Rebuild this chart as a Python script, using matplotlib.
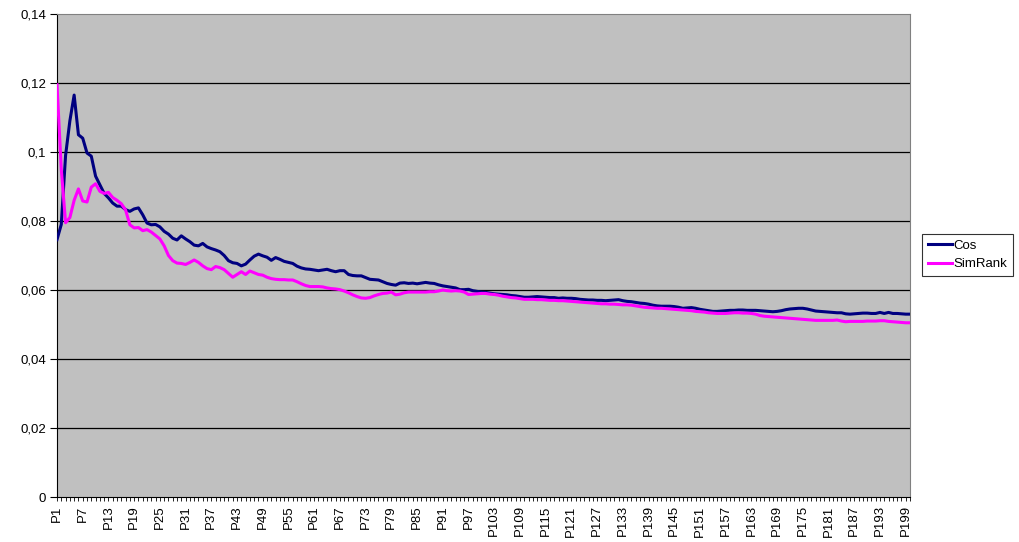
import matplotlib
matplotlib.use('Agg')
import matplotlib.pyplot as plt
import numpy as np

# ─── Data ───
cos = [
    0.0746, 0.0790, 0.0990, 0.1090, 0.1165, 0.1050, 0.1040, 0.0997, 0.0988, 0.0930,
    0.0905, 0.0880, 0.0867, 0.0852, 0.0843, 0.0843, 0.0833, 0.0828, 0.0835, 0.0838,
    0.0818, 0.0794, 0.0789, 0.0790, 0.0783, 0.0770, 0.0762, 0.0750, 0.0745, 0.0757,
    0.0748, 0.0740, 0.0730, 0.0728, 0.0735, 0.0725, 0.0720, 0.0716, 0.0711, 0.0700,
    0.0685, 0.0679, 0.0677, 0.0670, 0.0675, 0.0687, 0.0698, 0.0704, 0.0699, 0.0695,
    0.0686, 0.0694, 0.0689, 0.0683, 0.0680, 0.0677, 0.0669, 0.0664, 0.0661, 0.0660,
    0.0658, 0.0656, 0.0658, 0.0660, 0.0656, 0.0653, 0.0656, 0.0656, 0.0645, 0.0642,
    0.0641, 0.0641, 0.0636, 0.0631, 0.0630, 0.0629, 0.0624, 0.0619, 0.0616, 0.0614,
    0.0620, 0.0621, 0.0619, 0.0620, 0.0618, 0.0620, 0.0622, 0.0620, 0.0619, 0.0615,
    0.0612, 0.0610, 0.0608, 0.0606, 0.0601, 0.0601, 0.0602, 0.0598, 0.0596, 0.0594,
    0.0593, 0.0591, 0.0589, 0.0588, 0.0587, 0.0586, 0.0584, 0.0583, 0.0581, 0.0579,
    0.0579, 0.0580, 0.0581, 0.0580, 0.0579, 0.0578, 0.0578, 0.0576, 0.0577, 0.0576,
    0.0576, 0.0575, 0.0573, 0.0572, 0.0571, 0.0571, 0.0570, 0.0570, 0.0569, 0.0570,
    0.0571, 0.0572, 0.0569, 0.0567, 0.0566, 0.0564, 0.0562, 0.0561, 0.0559, 0.0556,
    0.0554, 0.0553, 0.0553, 0.0553, 0.0552, 0.0550, 0.0547, 0.0548, 0.0549, 0.0547,
    0.0544, 0.0542, 0.0540, 0.0538, 0.0538, 0.0539, 0.0540, 0.0541, 0.0541, 0.0542,
    0.0542, 0.0541, 0.0541, 0.0541, 0.0540, 0.0539, 0.0538, 0.0537, 0.0538, 0.0540,
    0.0543, 0.0545, 0.0546, 0.0547, 0.0547, 0.0545, 0.0542, 0.0539, 0.0538, 0.0537,
    0.0536, 0.0535, 0.0534, 0.0534, 0.0531, 0.0530, 0.0531, 0.0532, 0.0533, 0.0533,
    0.0532, 0.0532, 0.0535, 0.0532, 0.0535, 0.0532, 0.0532, 0.0531, 0.0530, 0.0530,
]
simrank = [
    0.1195, 0.0950, 0.0795, 0.0810, 0.0860, 0.0893, 0.0858, 0.0855, 0.0898, 0.0908,
    0.0886, 0.0880, 0.0883, 0.0868, 0.0860, 0.0850, 0.0832, 0.0789, 0.0780, 0.0781,
    0.0772, 0.0775, 0.0768, 0.0758, 0.0748, 0.0728, 0.0700, 0.0685, 0.0678, 0.0677,
    0.0674, 0.0680, 0.0687, 0.0680, 0.0670, 0.0662, 0.0659, 0.0668, 0.0665, 0.0659,
    0.0648, 0.0637, 0.0645, 0.0653, 0.0645, 0.0655, 0.0650, 0.0645, 0.0643, 0.0637,
    0.0633, 0.0631, 0.0630, 0.0630, 0.0629, 0.0629, 0.0624, 0.0618, 0.0613, 0.0610,
    0.0610, 0.0610, 0.0609, 0.0606, 0.0604, 0.0603, 0.0601, 0.0597, 0.0592, 0.0586,
    0.0581, 0.0577, 0.0576, 0.0578, 0.0583, 0.0587, 0.0590, 0.0591, 0.0594, 0.0586,
    0.0588, 0.0592, 0.0594, 0.0594, 0.0594, 0.0594, 0.0594, 0.0595, 0.0595, 0.0597,
    0.0600, 0.0598, 0.0597, 0.0598, 0.0597, 0.0594, 0.0587, 0.0588, 0.0589, 0.0590,
    0.0590, 0.0588, 0.0587, 0.0585, 0.0582, 0.0580, 0.0578, 0.0577, 0.0575, 0.0573,
    0.0573, 0.0573, 0.0572, 0.0572, 0.0571, 0.0570, 0.0570, 0.0569, 0.0569, 0.0568,
    0.0567, 0.0566, 0.0565, 0.0564, 0.0563, 0.0562, 0.0561, 0.0560, 0.0560, 0.0559,
    0.0559, 0.0558, 0.0557, 0.0557, 0.0556, 0.0554, 0.0552, 0.0550, 0.0549, 0.0548,
    0.0547, 0.0547, 0.0546, 0.0545, 0.0544, 0.0543, 0.0542, 0.0541, 0.0540, 0.0538,
    0.0537, 0.0536, 0.0534, 0.0533, 0.0532, 0.0532, 0.0532, 0.0533, 0.0534, 0.0534,
    0.0533, 0.0533, 0.0532, 0.0530, 0.0526, 0.0524, 0.0523, 0.0522, 0.0521, 0.0520,
    0.0519, 0.0518, 0.0517, 0.0516, 0.0515, 0.0514, 0.0513, 0.0512, 0.0512, 0.0512,
    0.0512, 0.0512, 0.0513, 0.0510, 0.0508, 0.0509, 0.0509, 0.0509, 0.0509, 0.0510,
    0.0510, 0.0510, 0.0511, 0.0511, 0.0509, 0.0508, 0.0507, 0.0506, 0.0505, 0.0505,
]
categories = [f'P{i + 1}' for i in range(len(cos))]
y_ticks = [0, 0.02, 0.04, 0.06, 0.08, 0.1, 0.12, 0.14]
y_labels = ['0', '0,02', '0,04', '0,06', '0,08', '0,1', '0,12', '0,14']

plt.rcParams['font.family'] = ['Liberation Sans', 'DejaVu Sans']

# ─── Figure ───
fig = plt.figure(figsize=(10.19, 5.42), dpi=100)
ax = fig.add_axes([57 / 1019, 45 / 542, 853 / 1019, 483 / 542])
ax.set_facecolor('#c0c0c0')

x = np.arange(len(cos))
ax.plot(x, cos, color='#000080', lw=2.2, label='Cos', zorder=3)
ax.plot(x, simrank, color='#ff00ff', lw=2.2, label='SimRank', zorder=4)

ax.set_xlim(0, len(cos) - 1)
ax.set_ylim(0, 0.14)
ax.set_yticks(y_ticks)
ax.set_yticklabels(y_labels, fontsize=9.5)
for yv in y_ticks[1:-1]:
    ax.axhline(yv, color='black', lw=0.9, zorder=1)

ax.set_xticks(x[::6])
ax.set_xticklabels(categories[::6], rotation=90, fontsize=9.5)
ax.set_xticks(x, minor=True)
ax.tick_params(axis='x', which='both', direction='out', length=3, width=0.6, pad=3)
ax.tick_params(axis='y', direction='out', length=5, width=0.8, pad=3)

ax.spines['left'].set_color('black')
ax.spines['bottom'].set_color('black')
ax.spines['top'].set_color('#808080')
ax.spines['right'].set_color('#808080')

leg = fig.legend(loc='center left', bbox_to_anchor=(922 / 1019, 1 - 255 / 542),
                 fontsize=9.5, frameon=True, fancybox=False, edgecolor='black',
                 handlelength=1.8, handletextpad=0.1, borderpad=0.45,
                 borderaxespad=0, labelspacing=0.45)
leg.get_frame().set_linewidth(0.8)

plt.savefig('out.png', dpi=100)
print("Saved out.png")
